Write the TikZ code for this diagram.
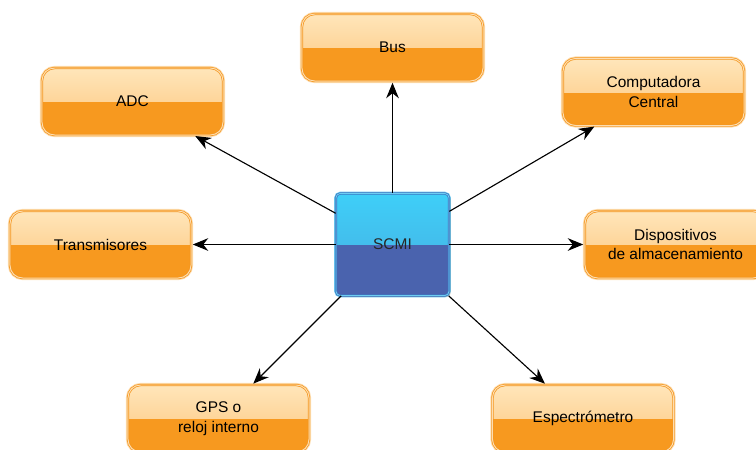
\documentclass[tikz,border=0pt]{standalone}
\usepackage{fontspec}
\setmainfont{Liberation Sans}
\usetikzlibrary{arrows.meta,shadows}

\definecolor{boxtop}{HTML}{FFE6BA}
\definecolor{boxmid}{HTML}{FCC47A}
\definecolor{boxlow}{HTML}{F7991F}
\definecolor{boxedge}{HTML}{F4961E}
\definecolor{boxhalo}{HTML}{FDDDB0}
\definecolor{scmitop}{HTML}{3ECFF8}
\definecolor{scmimid}{HTML}{48ADE0}
\definecolor{scmilow}{HTML}{4A63AE}
\definecolor{scmiedge}{HTML}{3E74C0}
\definecolor{scmihalo}{HTML}{6ECDF2}

\tikzset{
  gloss/.style 2 args={
    path picture={
      \fill[sharp corners,top color=#1,bottom color=#2] (path picture bounding box.north west) rectangle (path picture bounding box.east);
    }},
  unit/.style={rectangle, rounded corners=9pt, minimum width=4.525cm, minimum height=1.675cm,
    align=center, font=\fontsize{11}{14}\selectfont, text=black,
    fill=boxlow, gloss={boxtop}{boxmid},
    draw=boxedge, double=boxhalo, double distance=0.7pt, line width=0.5pt,
    preaction={draw=boxhalo, line width=3pt}},
  core/.style={rectangle, rounded corners=3pt, minimum width=2.825cm, minimum height=2.55cm,
    font=\fontsize{11}{14}\selectfont, text=black!85,
    fill=scmilow, gloss={scmitop}{scmimid},
    draw=scmiedge, double=scmihalo, double distance=0.6pt, line width=0.5pt,
    preaction={draw=scmihalo, line width=2.5pt},
    drop shadow={shadow xshift=1.2pt, shadow yshift=-1.2pt, opacity=0.35}},
  link/.style={-{Stealth[length=11pt,width=9pt]}, line width=0.8pt, shorten >=1pt}
}

\begin{document}
\begin{tikzpicture}[x=0.025cm,y=-0.025cm]
\useasboundingbox (0,0) rectangle (756,449);
\clip (0,0) rectangle (756,449);

% outer units
\node[unit] (bus)   at (392.5,47.5) {Bus};
\node[unit] (adc)   at (132.5,101.5) {ADC};
\node[unit] (comp)  at (653.5,92) {Computadora\\Central};
\node[unit] (trans) at (100.5,244.5) {Transmisores};
\node[unit] (disp)  at (675.5,244.5) {Dispositivos\\de almacenamiento};
\node[unit] (gps)   at (218.5,418.5) {GPS o\\reloj interno};
\node[unit] (espec) at (583,418.5) {Espectrómetro};

% central unit
\node[core] (scmi) at (392.5,244.5) {SCMI};

\foreach \n in {bus,adc,comp,trans,disp,gps,espec}
  \draw[link] (scmi) -- (\n);

\end{tikzpicture}
\end{document}
